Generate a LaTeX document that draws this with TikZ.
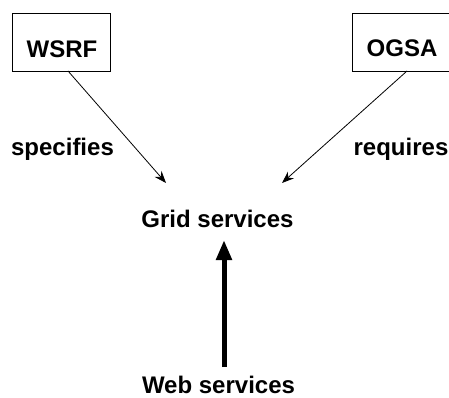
\documentclass[tikz,border=0pt]{standalone}
\usepackage{fontspec}
\setmainfont{Liberation Sans}
\usetikzlibrary{arrows.meta,calc}
\begin{document}
\begin{tikzpicture}[x=1pt,y=1pt,
  lbl/.style={font=\bfseries\fontsize{24}{26}\selectfont, inner sep=0pt, anchor=base},
  boxn/.style={draw, line width=0.8pt, minimum width=98pt, minimum height=58pt, inner sep=0pt},
  thin/.style={line width=0.8pt, -{Stealth[length=12pt,width=9pt]}},
  thick/.style={line width=5pt, -{Triangle[length=20pt,width=15pt]}}]
\useasboundingbox (0,0) rectangle (449,-398);
\node[boxn] (wsrf) at (61,-42) {};
\node[lbl] (wsrft) at (62,-58) {WSRF};
\node[boxn, minimum width=100pt] (ogsa) at (402,-42) {};
\node[lbl] (ogsat) at (402,-57) {OGSA};
\node[lbl] (spec) at (62.5,-156) {specifies};
\node[lbl] (req) at (401,-156) {requires};
\node[lbl] (grid) at (217.5,-227) {Grid services};
\node[lbl] (web) at (218.5,-393.5) {Web services};
\coordinate (s1) at (68,-71);
\coordinate (t1) at (166,-183);
\coordinate (s2) at (407,-71);
\coordinate (t2) at (282,-183);
\coordinate (s3) at (224,-367);
\coordinate (t3) at (224,-240);
\draw[thin] (s1) -- (t1);
\draw[thin] (s2) -- (t2);
\draw[thick] (s3) -- (t3);
\end{tikzpicture}
\end{document}
